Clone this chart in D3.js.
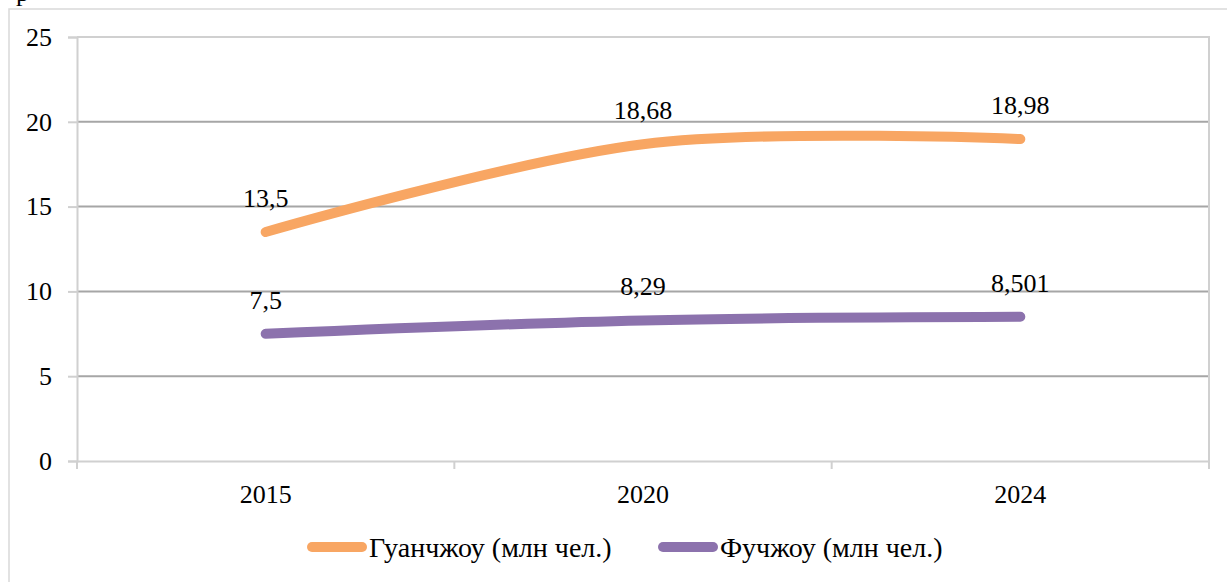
<!DOCTYPE html>
<html>
<head>
<meta charset="utf-8">
<script src="https://cdn.jsdelivr.net/npm/d3@7"></script>
<style>
  body { margin: 0; background: #fff; }
</style>
</head>
<body>
<svg id="chart"></svg>
<script>
const width = 1227, height = 582;
const margin = { top: 37, right: 18, bottom: 120, left: 77 };
const FONT = '"Liberation Serif"';

// Data
const years = ["2015", "2020", "2024"];
const guangzhou = [13.5, 18.68, 18.98];
const fuzhou = [7.5, 8.29, 8.501];
const guangzhouLabels = ["13,5", "18,68", "18,98"];
const fuzhouLabels = ["7,5", "8,29", "8,501"];
const seriesNames = ["Гуанчжоу (млн чел.)", "Фучжоу (млн чел.)"];
const yTicks = [0, 5, 10, 15, 20, 25];

const colors = ["#F8A663", "#8C72AD"];

const svg = d3.select("#chart")
    .attr("width", width)
    .attr("height", height)
    .style("background", "#fff");

// outer chart border
svg.append("rect")
    .attr("x", 9).attr("y", 9)
    .attr("width", width + 10).attr("height", height + 10)
    .attr("fill", "none")
    .attr("stroke", "#d9d9d9")
    .attr("stroke-width", 1.5);

// cut-off text from page above
svg.append("text")
    .attr("x", 16).attr("y", 1)
    .style("font-family", FONT)
    .style("font-size", "26px")
    .text("р");

const xScale = d3.scaleBand()
    .domain(years)
    .range([margin.left, width - margin.right]);

const yScale = d3.scaleLinear()
    .domain([0, 25])
    .range([height - margin.bottom - 1, margin.top]);

const x0 = margin.left, x1 = width - margin.right;
const yBottom = yScale(0), yTop = yScale(25);

// gridlines
svg.append("g")
    .selectAll("line")
    .data(yTicks.filter(d => d > 0 && d < 25))
    .enter().append("line")
    .attr("x1", x0).attr("x2", x1)
    .attr("y1", d => yScale(d)).attr("y2", d => yScale(d))
    .attr("stroke", "#a6a6a6")
    .attr("stroke-width", 2);

// top and right plot border
svg.append("path")
    .attr("d", `M${x0},${yTop}H${x1}V${yBottom}`)
    .attr("fill", "none")
    .attr("stroke", "#d0d0d0")
    .attr("stroke-width", 2);

// y axis
const yAxis = svg.append("g")
    .attr("transform", `translate(${x0},0)`)
    .call(d3.axisLeft(yScale).tickValues(yTicks).tickSize(9).tickPadding(16));
yAxis.select(".domain").attr("stroke", "#d0d0d0").attr("stroke-width", 2);
yAxis.selectAll(".tick line").attr("stroke", "#d0d0d0").attr("stroke-width", 2);
yAxis.selectAll("text")
    .style("font-family", FONT)
    .style("font-size", "26px")
    .attr("fill", "#000");

// x axis
const xAxis = svg.append("g")
    .attr("transform", `translate(0,${yBottom})`)
    .call(d3.axisBottom(xScale).tickSize(0).tickPadding(24));
xAxis.select(".domain").attr("stroke", "#d0d0d0").attr("stroke-width", 2);
xAxis.selectAll("text")
    .style("font-family", FONT)
    .style("font-size", "26px")
    .attr("fill", "#000");

// x category boundary ticks
const bounds = years.map(d => xScale(d)).concat([xScale(years[2]) + xScale.bandwidth()]);
svg.append("g")
    .selectAll("line")
    .data(bounds)
    .enter().append("line")
    .attr("x1", d => d).attr("x2", d => d)
    .attr("y1", yBottom).attr("y2", yBottom + 8)
    .attr("stroke", "#d0d0d0")
    .attr("stroke-width", 2);

const cx = d => xScale(d) + xScale.bandwidth() / 2;

const line = d3.line()
    .x(d => cx(d.year))
    .y(d => yScale(d.value))
    .curve(d3.curveCardinal.tension(0));

const series = [
    { name: seriesNames[0], values: guangzhou, labels: guangzhouLabels, color: colors[0] },
    { name: seriesNames[1], values: fuzhou, labels: fuzhouLabels, color: colors[1] }
];

series.forEach(function(s) {
    const pts = years.map((y, i) => ({ year: y, value: s.values[i], label: s.labels[i] }));
    svg.append("path")
        .datum(pts)
        .attr("d", line)
        .attr("fill", "none")
        .attr("stroke", s.color)
        .attr("stroke-width", 10)
        .attr("stroke-linecap", "round");

    svg.append("g")
        .selectAll("text")
        .data(pts)
        .enter().append("text")
        .attr("x", d => cx(d.year))
        .attr("y", d => yScale(d.value) - 25)
        .attr("text-anchor", "middle")
        .style("font-family", FONT)
        .style("font-size", "26px")
        .text(d => d.label);
});

// legend
const legendX = [307, 658];
const legend = svg.selectAll(".legend")
    .data(series)
    .enter().append("g")
    .attr("class", "legend")
    .attr("transform", (d, i) => `translate(${legendX[i]},547)`);

legend.append("line")
    .attr("x1", 5).attr("x2", 55)
    .attr("y1", 0).attr("y2", 0)
    .attr("stroke", d => d.color)
    .attr("stroke-width", 10)
    .attr("stroke-linecap", "round");

legend.append("text")
    .attr("x", 62)
    .attr("y", 10)
    .style("font-family", FONT)
    .style("font-size", "28px")
    .text(d => d.name);
</script>
</body>
</html>
